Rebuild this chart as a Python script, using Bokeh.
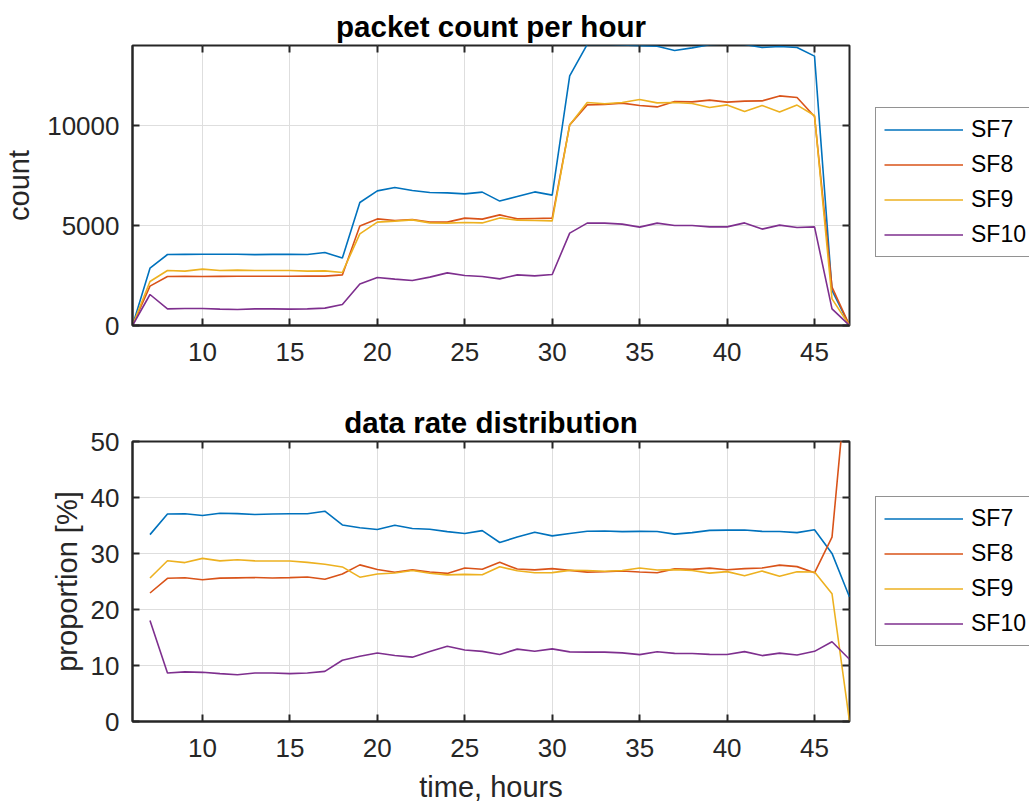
import numpy as np
from bokeh.plotting import figure
from bokeh.models import Range1d, FixedTicker, Legend, LegendItem, LinearAxis
from bokeh.layouts import column, row
from bokeh.embed import file_html
from bokeh.resources import INLINE

# ---------------- data ----------------
hours = list(range(6, 48))
sf7 = [0, 2865, 3550, 3555, 3560, 3565, 3560, 3545, 3555, 3560, 3550, 3650, 3370,
       6150, 6730, 6900, 6750, 6650, 6630, 6580, 6670, 6220, 6450, 6680, 6520,
       12480, 14050, 14060, 14030, 13990, 13960, 13750, 13880, 14040, 14080, 14050,
       13900, 13950, 13900, 13470, 1750, 2]
sf8 = [0, 1970, 2450, 2460, 2450, 2455, 2460, 2465, 2460, 2465, 2470, 2470, 2530,
       4970, 5330, 5250, 5300, 5170, 5170, 5370, 5320, 5530, 5330, 5350, 5370,
       10030, 11030, 11050, 11120, 11000, 10930, 11200, 11180, 11270, 11170, 11220,
       11230, 11480, 11400, 10450, 1920, 6]
sf9 = [0, 2200, 2750, 2720, 2820, 2750, 2770, 2750, 2750, 2750, 2720, 2730, 2650,
       4580, 5170, 5220, 5280, 5130, 5120, 5150, 5130, 5380, 5270, 5250, 5230,
       10030, 11150, 11090, 11150, 11300, 11130, 11150, 11100, 10900, 11030, 10700,
       11000, 10670, 11020, 10500, 1330, 0]
sf10 = [0, 1550, 830, 850, 850, 820, 800, 830, 830, 820, 830, 870, 1050,
        2070, 2400, 2320, 2250, 2420, 2630, 2500, 2450, 2330, 2530, 2480, 2550,
        4620, 5120, 5120, 5070, 4920, 5120, 5000, 5000, 4930, 4930, 5130,
        4820, 5020, 4900, 4930, 830, 1]

series_names = ["SF7", "SF8", "SF9", "SF10"]
series_values = [sf7, sf8, sf9, sf10]
colors = ["#0072BD", "#D95319", "#EDB120", "#7E2F8E"]

x_ticks = [10, 15, 20, 25, 30, 35, 40, 45]
count_ticks = [0, 5000, 10000]
prop_ticks = [0, 10, 20, 30, 40, 50]
x_limits = (6, 47)

# proportions derived from the counts
counts = np.array(series_values, dtype=float)
totals = counts.sum(axis=0)
with np.errstate(invalid="ignore", divide="ignore"):
    proportions = np.where(totals > 0, 100.0 * counts / totals, np.nan)

FONT = "Liberation Sans"
AX = "#262626"
GRID = "#dedede"


def make_fig(title, y_end, yticks, ylabel, ylabel_standoff, xlabel, top_border, bottom_border):
    p = figure(frame_width=717, frame_height=280,
               x_range=Range1d(*x_limits), y_range=Range1d(0, y_end),
               output_backend="svg", toolbar_location=None,
               min_border_left=132, min_border_right=26,
               min_border_top=top_border, min_border_bottom=bottom_border,
               title=title)
    p.title.align = "center"
    p.title.text_font = FONT
    p.title.text_font_size = "29.5px"
    p.title.text_font_style = "bold"
    p.title.text_color = "#000000"
    p.title.standoff = 6
    p.title.offset = 0
    p.outline_line_color = AX
    p.outline_line_width = 2
    p.background_fill_color = "white"
    p.border_fill_color = "white"

    xax = p.below[0]
    yax = p.left[0]
    xax.ticker = FixedTicker(ticks=x_ticks)
    yax.ticker = FixedTicker(ticks=yticks)
    for ax in (xax, yax):
        ax.axis_line_color = AX
        ax.axis_line_width = 2
        ax.major_tick_line_color = AX
        ax.major_tick_line_width = 2
        ax.major_tick_in = 7
        ax.major_tick_out = 0
        ax.minor_tick_line_color = None
        ax.major_label_text_font = FONT
        ax.major_label_text_font_size = "26px"
        ax.major_label_text_color = AX
        ax.axis_label_text_font = FONT
        ax.axis_label_text_font_size = "29px"
        ax.axis_label_text_font_style = "normal"
        ax.axis_label_text_color = AX
    xax.major_label_standoff = 17
    yax.major_label_standoff = 13
    yax.axis_label = ylabel
    yax.axis_label_standoff = ylabel_standoff
    if xlabel:
        xax.axis_label = xlabel
        xax.axis_label_standoff = 11

    # ticks on top and right side (box on)
    top_ax = LinearAxis(ticker=FixedTicker(ticks=x_ticks))
    right_ax = LinearAxis(ticker=FixedTicker(ticks=yticks))
    for ax in (top_ax, right_ax):
        ax.axis_line_color = None
        ax.major_tick_line_color = AX
        ax.major_tick_line_width = 2
        ax.major_tick_in = 7
        ax.major_tick_out = 0
        ax.minor_tick_line_color = None
        ax.major_label_text_font_size = "0px"
        ax.major_label_standoff = 0
        ax.major_label_text_color = None
    p.add_layout(top_ax, "above")
    p.add_layout(right_ax, "right")

    p.xgrid.ticker = FixedTicker(ticks=x_ticks)
    p.ygrid.ticker = FixedTicker(ticks=yticks)
    p.grid.grid_line_color = GRID
    p.grid.grid_line_width = 1
    return p


def add_lines(p, ys):
    for y, c in zip(ys, colors):
        p.line(hours, list(y), line_color=c, line_width=1.6)


def legend_fig(ys, height, legend_bottom):
    # separate canvas to the right of the axes holding the legend box
    lf = figure(width=154, height=height, x_range=Range1d(0, 1), y_range=Range1d(0, 1),
                x_axis_type=None, y_axis_type=None, output_backend="svg",
                toolbar_location=None, min_border=0, outline_line_color=None)
    lf.grid.visible = False
    items = []
    for name, y, c in zip(series_names, ys, colors):
        r = lf.line(hours, list(y), line_color=c, line_width=1.6)
        items.append(LegendItem(label=name, renderers=[r]))
    leg = Legend(items=items, location=(0, legend_bottom),
                 border_line_color=AX, border_line_width=1,
                 background_fill_color="white", background_fill_alpha=1,
                 label_text_font=FONT, label_text_font_size="23px",
                 label_text_color="#000000",
                 glyph_width=79, glyph_height=25, label_height=25,
                 label_standoff=8, spacing=8, padding=8, margin=0)
    lf.add_layout(leg, "center")
    return lf


p1 = make_fig("packet count per hour", 14000, count_ticks, "count", 9, None, 45, 70)
add_lines(p1, series_values)
l1 = legend_fig(series_values, 395, 68)

p2 = make_fig("data rate distribution", 50, prop_ticks, "proportion [%]", 5,
              "time, hours", 46, 78)
add_lines(p2, proportions)
l2 = legend_fig(proportions, 404, 69)

layout = column(row(p1, l1, spacing=0), row(p2, l2, spacing=0), spacing=0)

open("out.html", "w").write(file_html(layout, INLINE))
